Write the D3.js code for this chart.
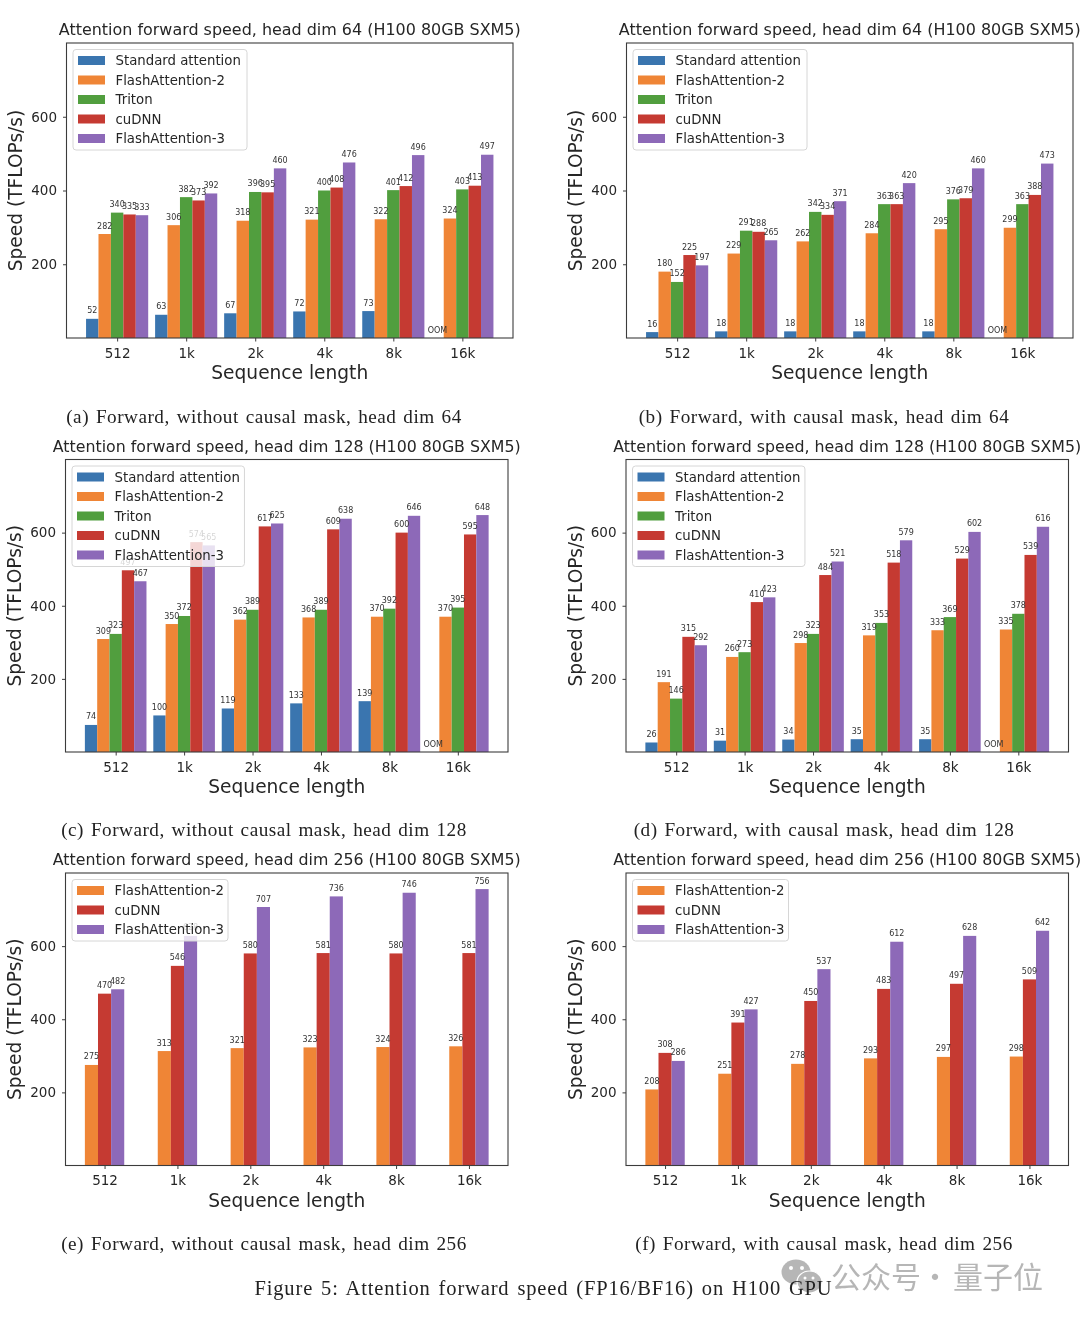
<!DOCTYPE html>
<html>
<head>
<meta charset="utf-8" />
<title>Attention forward speed</title>
<script src="https://cdn.jsdelivr.net/npm/d3@7"></script>
<style>
  body { margin:0; padding:0; background:#fff; }
  svg { display:block; filter:blur(0.35px); }
  text { font-family:'DejaVu Sans', sans-serif; fill:#262626; }
  .caption { font-family:'Liberation Serif', serif; font-size:19.2px; letter-spacing:0.5px; word-spacing:1.6px; fill:#222; }
  .figcaption { font-size:20.5px; letter-spacing:0.85px; word-spacing:2px; }
</style>
</head>
<body>
<svg id="chart" width="1080" height="1320"></svg>
<script>
var seqLabels = ["512", "1k", "2k", "4k", "8k", "16k"];
var yTicks = [200, 400, 600];

var names5 = ["Standard attention", "FlashAttention-2", "Triton", "cuDNN", "FlashAttention-3"];
var names3 = ["FlashAttention-2", "cuDNN", "FlashAttention-3"];
var colors = {
  "Standard attention": "#3a75af",
  "FlashAttention-2": "#ef8536",
  "Triton": "#519e3e",
  "cuDNN": "#c53a32",
  "FlashAttention-3": "#8d69b8"
};

// null = OOM
var a_std = [52, 63, 67, 72, 73, null];
var a_fa2 = [282, 306, 318, 321, 322, 324];
var a_tri = [340, 382, 396, 400, 401, 403];
var a_cu  = [335, 373, 395, 408, 412, 413];
var a_fa3 = [333, 392, 460, 476, 496, 497];

var b_std = [16, 18, 18, 18, 18, null];
var b_fa2 = [180, 229, 262, 284, 295, 299];
var b_tri = [152, 291, 342, 363, 376, 363];
var b_cu  = [225, 288, 334, 363, 379, 388];
var b_fa3 = [197, 265, 371, 420, 460, 473];

var c_std = [74, 100, 119, 133, 139, null];
var c_fa2 = [309, 350, 362, 368, 370, 370];
var c_tri = [323, 372, 389, 389, 392, 395];
var c_cu  = [497, 574, 617, 609, 600, 595];
var c_fa3 = [467, 565, 625, 638, 646, 648];

var d_std = [26, 31, 34, 35, 35, null];
var d_fa2 = [191, 260, 298, 319, 333, 335];
var d_tri = [146, 273, 323, 353, 369, 378];
var d_cu  = [315, 410, 484, 518, 529, 539];
var d_fa3 = [292, 423, 521, 579, 602, 616];

var e_fa2 = [275, 313, 321, 323, 324, 326];
var e_cu  = [470, 546, 580, 581, 580, 581];
var e_fa3 = [482, 628, 707, 736, 746, 756];

var f_fa2 = [208, 251, 278, 293, 297, 298];
var f_cu  = [308, 391, 450, 483, 497, 509];
var f_fa3 = [286, 427, 537, 612, 628, 642];

var panels = [
  {dim:64,  cap:"(a) Forward, without causal mask, head dim 64", capX:264, capY:423, x0:66.5, x1:513, y0:43, y1:338, names:names5, vals:[a_std,a_fa2,a_tri,a_cu,a_fa3]},
  {dim:64,  cap:"(b) Forward, with causal mask, head dim 64",    capX:824, capY:423, x0:626.5, x1:1073, y0:43, y1:338, names:names5, vals:[b_std,b_fa2,b_tri,b_cu,b_fa3]},
  {dim:128, cap:"(c) Forward, without causal mask, head dim 128", capX:264, capY:836, x0:65.5, x1:508, y0:459.5, y1:752, names:names5, vals:[c_std,c_fa2,c_tri,c_cu,c_fa3]},
  {dim:128, cap:"(d) Forward, with causal mask, head dim 128",   capX:824, capY:836, x0:626, x1:1068.5, y0:459.5, y1:752, names:names5, vals:[d_std,d_fa2,d_tri,d_cu,d_fa3]},
  {dim:256, cap:"(e) Forward, without causal mask, head dim 256", capX:264, capY:1250, x0:65.5, x1:508, y0:873, y1:1165.5, names:names3, vals:[e_fa2,e_cu,e_fa3]},
  {dim:256, cap:"(f) Forward, with causal mask, head dim 256",   capX:824, capY:1250, x0:626, x1:1068.5, y0:873, y1:1165.5, names:names3, vals:[f_fa2,f_cu,f_fa3]}
];

var svg = d3.select("#chart");
var barW = 0.18;

panels.forEach(function(p){
  var n = p.names.length;
  var pad = (5 + n * barW) * 0.048;
  var x = d3.scaleLinear().domain([-n*barW/2 - pad, 5 + n*barW/2 + pad]).range([p.x0, p.x1]);
  var y = d3.scaleLinear().domain([0, 800]).range([p.y1, p.y0]);
  var g = svg.append("g");

  p.names.forEach(function(name, s){
    var off = (s - (n-1)/2) * barW;
    var rows = p.vals[s].map(function(v,i){ return {v:v, i:i}; });

    g.append("g").selectAll("rect").data(rows).join("rect")
      .attr("x", function(d){ return x(d.i + off - barW/2); })
      .attr("width", x(barW) - x(0))
      .attr("y", function(d){ return y(d.v === null ? 0 : d.v); })
      .attr("height", function(d){ return d.v === null ? 0 : y(0) - y(d.v); })
      .attr("fill", colors[name]);
  });

  // value labels go over all the bars
  p.names.forEach(function(name, s){
    var off = (s - (n-1)/2) * barW;
    var rows = p.vals[s].map(function(v,i){ return {v:v, i:i}; });
    g.append("g").selectAll("text").data(rows).join("text")
      .attr("x", function(d){ return x(d.i + off); })
      .attr("y", function(d){ return y(d.v === null ? 0 : d.v) - 5.5; })
      .attr("text-anchor", "middle")
      .attr("font-size", 8)
      .style("fill", "#333")
      .text(function(d){ return d.v === null ? "OOM" : d.v; });
  });

  // frame
  g.append("rect")
    .attr("x", p.x0).attr("y", p.y0)
    .attr("width", p.x1 - p.x0).attr("height", p.y1 - p.y0)
    .attr("fill", "none").attr("stroke", "#3c3c3c").attr("stroke-width", 1.1);

  var xAxis = d3.axisBottom(x).tickValues(d3.range(6))
    .tickFormat(function(i){ return seqLabels[i]; }).tickSize(3.5).tickPadding(6.5);
  var yAxis = d3.axisLeft(y).tickValues(yTicks).tickFormat(d3.format("d")).tickSize(3.5).tickPadding(6);

  var gx = g.append("g").attr("transform", "translate(0," + p.y1 + ")").call(xAxis);
  var gy = g.append("g").attr("transform", "translate(" + p.x0 + ",0)").call(yAxis);
  [gx, gy].forEach(function(ax){
    ax.select(".domain").remove();
    ax.selectAll("line").attr("stroke", "#3c3c3c");
    ax.selectAll("text").attr("font-size", 13.5).attr("font-family", "'DejaVu Sans', sans-serif");
  });

  var midX = (p.x0 + p.x1) / 2, midY = (p.y0 + p.y1) / 2;
  g.append("text").attr("x", midX).attr("y", p.y0 - 8)
    .attr("text-anchor", "middle").attr("font-size", p.dim === 64 ? 15.95 : 15.8)
    .text("Attention forward speed, head dim " + p.dim + " (H100 80GB SXM5)");
  g.append("text").attr("x", midX).attr("y", p.y1 + 41)
    .attr("text-anchor", "middle").attr("font-size", 18.6)
    .text("Sequence length");
  g.append("text").attr("transform", "translate(" + (p.x0 - 44.5) + "," + midY + ") rotate(-90)")
    .attr("text-anchor", "middle").attr("font-size", 18.6)
    .text("Speed (TFLOPs/s)");

  // legend, on top of the bars with some see-through
  var lw = (n === 5 ? 174 : 156) * (p.x1 - p.x0) / 446.5, rowH = 19.5;
  if (n === 3) lw = 156;
  var leg = g.append("g").attr("transform", "translate(" + (p.x0 + 6.5) + "," + (p.y0 + 6.5) + ")");
  leg.append("rect").attr("width", lw).attr("height", n * rowH + 3)
    .attr("rx", 3).attr("fill", "#fff").attr("fill-opacity", 0.8)
    .attr("stroke", "#d6d6d6").attr("stroke-width", 1);
  var row = leg.selectAll("g.row").data(p.names).join("g").attr("class", "row")
    .attr("transform", function(d,i){ return "translate(0," + (11 + i * rowH) + ")"; });
  row.append("rect").attr("x", 5).attr("y", -4.5).attr("width", 27).attr("height", 9)
    .attr("fill", function(d){ return colors[d]; });
  row.append("text").attr("x", 42.5).attr("y", 4.7).attr("font-size", 13.3)
    .text(function(d){ return d; });

  svg.append("text").attr("class", "caption")
    .attr("x", p.capX).attr("y", p.capY).attr("text-anchor", "middle").text(p.cap);
});

// watermark, sits under the figure caption
var wm = svg.append("g").attr("opacity", 0.65);
var wmCjk = "'Noto Sans CJK SC', sans-serif";
wm.append("ellipse").attr("cx", 796).attr("cy", 1272).attr("rx", 14.5).attr("ry", 12.5).attr("fill", "#8f8f8f");
wm.append("ellipse").attr("cx", 809.5).attr("cy", 1282).attr("rx", 12.5).attr("ry", 11).attr("fill", "#8f8f8f").attr("stroke", "#fff").attr("stroke-width", 1.2);
wm.selectAll("circle").data([[791,1268,2],[802,1268,2],[805,1278,1.5],[813,1278,1.5]]).join("circle")
  .attr("cx", function(d){ return d[0]; }).attr("cy", function(d){ return d[1]; }).attr("r", function(d){ return d[2]; })
  .attr("fill", "#fff");
wm.selectAll("text").data([["公众号",831],["·",920],["量子位",953]]).join("text")
  .attr("x", function(d){ return d[1]; }).attr("y", 1288).attr("font-size", 30)
  .style("font-family", wmCjk).style("fill", "#8f8f8f")
  .text(function(d){ return d[0]; });

svg.append("text").attr("class", "caption figcaption")
  .attr("x", 543.5).attr("y", 1295).attr("text-anchor", "middle")
  .text("Figure 5: Attention forward speed (FP16/BF16) on H100 GPU");
</script>
</body>
</html>
